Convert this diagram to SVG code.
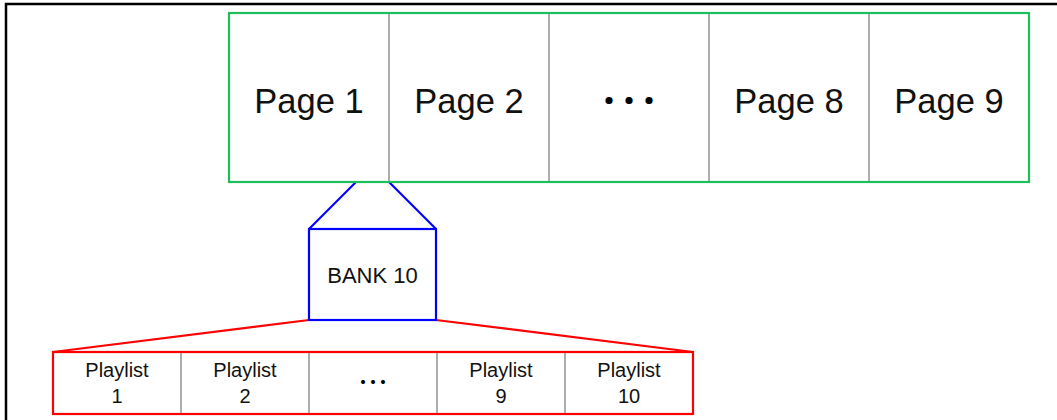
<svg xmlns="http://www.w3.org/2000/svg" width="1057" height="420" viewBox="0 0 1057 420">
<style>
  .frame{fill:none;stroke:#000;stroke-width:2.5}
  .green{fill:#fff;stroke:#1DBF5A;stroke-width:2.2}
  .blue{fill:#fff;stroke:#0000FF;stroke-width:2.2}
  .red{fill:#fff;stroke:#FF0000;stroke-width:2.2}
  .div{stroke:#808080;stroke-width:1.3}
  .bl{stroke:#0000FF;stroke-width:2.2;fill:none}
  .rl{stroke:#FF0000;stroke-width:2.2;fill:none}
  .page{font-family:"Liberation Sans",Arial,sans-serif;font-size:34.5px;fill:#111;text-anchor:middle}
  .pl{font-family:"Liberation Sans",Arial,sans-serif;font-size:20px;fill:#111;text-anchor:middle}
  .bank{font-family:"Liberation Sans",Arial,sans-serif;font-size:22px;fill:#111;text-anchor:middle}
  .dots{font-family:"Noto Sans CJK JP",sans-serif;fill:#000;text-anchor:middle}
</style>
<rect width="1057" height="420" fill="#fff"/>
<rect class="frame" x="6" y="4" width="1070" height="440"/>

<g id="connectors">
  <line class="bl" x1="356" y1="182" x2="309" y2="229"/>
  <line class="bl" x1="389" y1="182" x2="436" y2="229"/>
  <line class="rl" x1="309" y1="320" x2="53" y2="352"/>
  <line class="rl" x1="436" y1="320" x2="693" y2="352"/>
</g>

<g id="pages">
  <rect class="green" x="229" y="13" width="800" height="169"/>
  <line class="div" x1="389" y1="14" x2="389" y2="181"/>
  <line class="div" x1="549" y1="14" x2="549" y2="181"/>
  <line class="div" x1="709" y1="14" x2="709" y2="181"/>
  <line class="div" x1="869" y1="14" x2="869" y2="181"/>
  <g id="page1"><text class="page" x="309" y="113">Page 1</text></g>
  <g id="page2"><text class="page" x="469" y="113">Page 2</text></g>
  <g id="page-dots"><text class="dots" x="629" y="107.5" font-size="20" font-weight="bold" stroke="#000" stroke-width="2">・・・</text></g>
  <g id="page8"><text class="page" x="789" y="113">Page 8</text></g>
  <g id="page9"><text class="page" x="949" y="113">Page 9</text></g>
</g>

<g id="bank10">
  <rect class="blue" x="309" y="229" width="127" height="91"/>
  <text class="bank" x="372.5" y="283">BANK 10</text>
</g>

<g id="playlists">
  <rect class="red" x="53" y="352" width="640" height="62"/>
  <line class="div" x1="181" y1="353" x2="181" y2="413"/>
  <line class="div" x1="309" y1="353" x2="309" y2="413"/>
  <line class="div" x1="437" y1="353" x2="437" y2="413"/>
  <line class="div" x1="565" y1="353" x2="565" y2="413"/>
  <g id="playlist1"><text class="pl" x="117" y="377">Playlist</text><text class="pl" x="117" y="403">1</text></g>
  <g id="playlist2"><text class="pl" x="245" y="377">Playlist</text><text class="pl" x="245" y="403">2</text></g>
  <g id="playlist-dots"><text class="dots" x="373" y="392.5" font-size="30">…</text></g>
  <g id="playlist9"><text class="pl" x="501" y="377">Playlist</text><text class="pl" x="501" y="403">9</text></g>
  <g id="playlist10"><text class="pl" x="629" y="377">Playlist</text><text class="pl" x="629" y="403">10</text></g>
</g>
</svg>
